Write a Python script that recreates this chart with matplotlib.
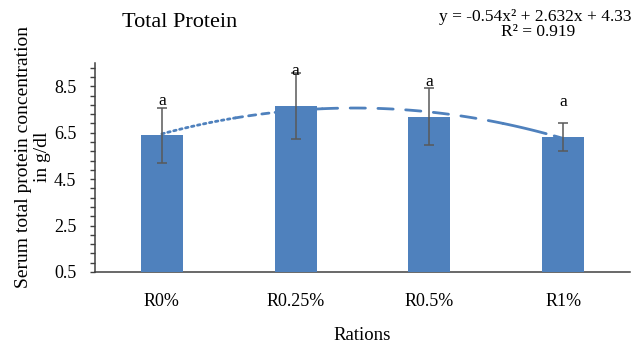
import numpy as np
import matplotlib
matplotlib.use("Agg")
import matplotlib.pyplot as plt

categories = ["R0%", "R0.25%", "R0.5%", "R1%"]
values = [6.38, 7.66, 7.19, 6.32]
errors = [1.18, 1.43, 1.22, 0.60]
letters = ["a", "a", "a", "a"]
yticks = [0.5, 2.5, 4.5, 6.5, 8.5]

plt.rcParams['font.family'] = ['Liberation Serif', 'DejaVu Serif']

BLUE = "#4F81BD"
DPI = 100
fig = plt.figure(figsize=(6.35, 3.49), dpi=DPI)
ax = fig.add_axes([95/635, 1-272/349, 535/635, 209/349])

pos = np.arange(len(categories))
ax.bar(pos, values, width=0.314, color=BLUE, zorder=3)
ax.errorbar(pos, values, yerr=errors, fmt='none', ecolor="#595959",
            elinewidth=1.1, capsize=3.3, capthick=1.1, zorder=4)

# polynomial trendline (order 2) through the bar values, x = 1..n
xs = np.arange(1, len(values) + 1)
coef = np.polyfit(xs, values, 2)
segs = [(1.0, 1.55, (0.9, 1.3)), (1.55, 2.2, (2.6, 2.2)),
        (2.2, 3.55, (5.5, 4.5)), (3.55, 4.0, (16, 3))]
for a, b, d in segs:
    xx = np.linspace(a, b, 60)
    line, = ax.plot(xx - 1, np.polyval(coef, xx), color=BLUE, lw=2.0,
                    zorder=2, solid_capstyle='butt', dash_capstyle='round')
    line.set_dashes(d)

for p, v, e, t in zip(pos, values, errors, letters):
    ax.annotate(t, (p, v), xytext=(0, 25), textcoords='offset points',
                ha='center', va='center', fontsize=12.5, zorder=5)

ax.set_xlim(-0.5, 3.5)
ax.set_ylim(0.5, 9.5)
ax.set_yticks(yticks)
ax.set_yticklabels([f"{t:.1f}" for t in yticks])
ax.yaxis.set_minor_locator(matplotlib.ticker.MultipleLocator(0.4, offset=0.5))
ax.set_xticks(pos)
ax.set_xticklabels(categories)
ax.tick_params(axis='x', length=0, pad=15, labelsize=13)
ax.tick_params(axis='y', which='both', direction='out', length=3.5,
               width=1, color="#404040", pad=10, labelsize=13)
for s in ['top', 'right']:
    ax.spines[s].set_visible(False)
for s in ['left', 'bottom']:
    ax.spines[s].set_color("#404040")
    ax.spines[s].set_linewidth(1.1)

fig.text(179.5/635, 1-26.7/349, "Total Protein", fontsize=16,
         ha='center', va='baseline')
fig.text(535.5/635, 1-21/349, "y = -0.54x² + 2.632x + 4.33", fontsize=12.5,
         ha='center', va='baseline')
fig.text(538/635, 1-36.5/349, "R² = 0.919", fontsize=12.5,
         ha='center', va='baseline')
fig.text(362.5/635, 1-335/349, "Rations", fontsize=13.5,
         ha='center', va='center')
fig.text(33/635, 1-157/349, "Serum total protein concentration\nin g/dl",
         fontsize=14, rotation=90, ha='center', va='center',
         multialignment='center', linespacing=1.2)

fig.savefig("out.png", dpi=DPI)
